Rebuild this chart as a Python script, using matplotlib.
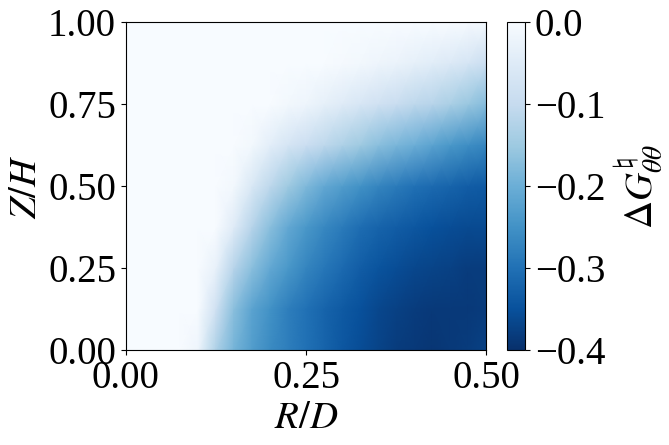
import numpy as np
import matplotlib
matplotlib.use("Agg")
import matplotlib.pyplot as plt

plt.rcParams['font.family'] = ['Liberation Serif', 'DejaVu Serif']
plt.rcParams['mathtext.fontset'] = 'stix'
plt.rcParams['font.size'] = 28

# grid
r_d = [0.0, 0.025, 0.05, 0.075, 0.1, 0.125, 0.15, 0.175, 0.2, 0.225, 0.25,
       0.275, 0.3, 0.325, 0.35, 0.375, 0.4, 0.425, 0.45, 0.475, 0.5]
z_h = [0.0, 0.125, 0.25, 0.375, 0.5, 0.625, 0.75, 0.875, 1.0]

dg_z000 = [0, 0, 0, 0, -0.02, -0.13, -0.19, -0.23, -0.26, -0.28, -0.30,
           -0.32, -0.34, -0.355, -0.37, -0.38, -0.385, -0.39, -0.385, -0.38, -0.375]
dg_z125 = [0, 0, 0, 0, 0, -0.08, -0.17, -0.22, -0.25, -0.28, -0.30,
           -0.32, -0.335, -0.35, -0.365, -0.375, -0.38, -0.385, -0.385, -0.385, -0.38]
dg_z250 = [0, 0, 0, 0, 0, -0.03, -0.12, -0.17, -0.21, -0.24, -0.27,
           -0.29, -0.31, -0.33, -0.345, -0.355, -0.365, -0.37, -0.375, -0.38, -0.38]
dg_z375 = [0, 0, 0, 0, 0, 0, -0.05, -0.12, -0.17, -0.21, -0.24,
           -0.265, -0.285, -0.305, -0.32, -0.33, -0.34, -0.35, -0.355, -0.36, -0.36]
dg_z500 = [0, 0, 0, 0, 0, 0, -0.01, -0.06, -0.11, -0.15, -0.18,
           -0.21, -0.23, -0.25, -0.27, -0.285, -0.30, -0.31, -0.32, -0.33, -0.335]
dg_z625 = [0, 0, 0, 0, 0, 0, 0, -0.01, -0.04, -0.07, -0.09,
           -0.11, -0.13, -0.15, -0.17, -0.185, -0.20, -0.22, -0.24, -0.255, -0.27]
dg_z750 = [0, 0, 0, 0, 0, 0, 0, 0, 0, -0.01, -0.02,
           -0.035, -0.05, -0.065, -0.08, -0.095, -0.11, -0.12, -0.135, -0.155, -0.175]
dg_z875 = [0, 0, 0, 0, 0, 0, 0, 0, 0, 0, 0,
           0, -0.005, -0.01, -0.02, -0.025, -0.035, -0.045, -0.055, -0.07, -0.09]
dg_z1000 = [0, 0, 0, 0, 0, 0, 0, 0, 0, 0, 0,
            0, 0, 0, 0, 0, 0, 0, 0, -0.005, -0.01]

field = np.array([dg_z000, dg_z125, dg_z250, dg_z375, dg_z500,
                  dg_z625, dg_z750, dg_z875, dg_z1000])

fig = plt.figure(figsize=(6.69, 4.45), dpi=100)
ax = fig.add_axes([0.188, 0.213, 0.539, 0.737])
cax = fig.add_axes([0.758, 0.213, 0.027, 0.737])

mesh = ax.pcolormesh(r_d, z_h, field, cmap='Blues_r', vmin=-0.4, vmax=0,
                     shading='gouraud')
ax.set_xlim(0, 0.5)
ax.set_ylim(0, 1)
ax.set_xticks([0, 0.25, 0.5])
ax.set_yticks([0, 0.25, 0.5, 0.75, 1.0])
ax.set_xticklabels(['0.00', '0.25', '0.50'])
ax.set_yticklabels(['0.00', '0.25', '0.50', '0.75', '1.00'])
ax.set_xlabel(r'$R/D$', labelpad=2)
ax.set_ylabel(r'$Z/H$', labelpad=2)

cb = fig.colorbar(mesh, cax=cax)
cb.set_ticks([0, -0.1, -0.2, -0.3, -0.4])
cb.set_label(r'$\Delta G^{\natural}_{\theta\theta}$')
cb.outline.set_linewidth(0.8)

fig.savefig('out.png', dpi=100)
